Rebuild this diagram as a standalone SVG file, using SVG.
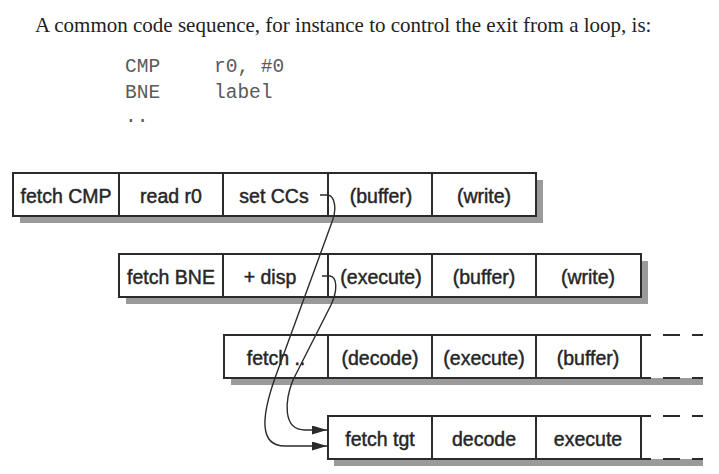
<svg xmlns="http://www.w3.org/2000/svg" width="719" height="474" viewBox="0 0 719 474">
<defs>
<style>
.bg{fill:#ffffff}
.para{font-family:"Liberation Serif","Times New Roman",serif;font-size:21px;fill:#222}
.code{font-family:"Liberation Mono","Courier New",monospace;font-size:19.5px;fill:#5a5a5a}
.shadow{fill:#9a9a9a}
.cell rect{fill:#ffffff;stroke:#2b2b2b;stroke-width:2}
.cell text{font-family:"Liberation Sans",Arial,Helvetica,sans-serif;font-size:19.5px;fill:#262626;stroke:#262626;stroke-width:0.45;text-anchor:middle}
.edge{fill:none;stroke:#2b2b2b;stroke-width:2}
.conn{fill:none;stroke:#2b2b2b;stroke-width:1.4}
</style>
<marker id="arrow" markerUnits="userSpaceOnUse" markerWidth="16" markerHeight="9" refX="15" refY="4.5" orient="auto">
<path d="M0,0 L15,4.5 L0,9 z" fill="#2b2b2b"/>
</marker>
</defs>
<rect class="bg" x="0" y="0" width="719" height="474"/>

<g id="intro">
<text class="para" x="35" y="32">A common code sequence, for instance to control the exit from a loop, is:</text>
<text class="code" x="125" y="72">CMP</text>
<text class="code" x="214" y="72">r0, #0</text>
<text class="code" x="125" y="97.5">BNE</text>
<text class="code" x="214" y="97.5">label</text>
<text class="code" x="125" y="122">..</text>
</g>

<!-- Row 1: CMP -->
<g id="row-cmp">
<rect class="shadow" x="20" y="180" width="523" height="43"/>
<g id="cmp-fetch" class="cell"><rect x="13" y="173" width="106" height="43"/><text x="66" y="202.5">fetch CMP</text></g>
<g id="cmp-read" class="cell"><rect x="119" y="173" width="104" height="43"/><text x="171" y="202.5">read r0</text></g>
<g id="cmp-setccs" class="cell"><rect x="223" y="173" width="105" height="43"/><text x="274" y="202.5">set CCs</text></g>
<g id="cmp-buffer" class="cell"><rect x="328" y="173" width="104" height="43"/><text x="381" y="202.5">(buffer)</text></g>
<g id="cmp-write" class="cell"><rect x="432" y="173" width="104" height="43"/><text x="484" y="202.5">(write)</text></g>
</g>

<!-- Row 2: BNE -->
<g id="row-bne">
<rect class="shadow" x="126" y="261" width="522" height="43"/>
<g id="bne-fetch" class="cell"><rect x="119" y="254" width="104" height="43"/><text x="171" y="283.5">fetch BNE</text></g>
<g id="bne-disp" class="cell"><rect x="223" y="254" width="105" height="43"/><text x="270" y="283.5">+ disp</text></g>
<g id="bne-execute" class="cell"><rect x="328" y="254" width="104" height="43"/><text x="381" y="283.5">(execute)</text></g>
<g id="bne-buffer" class="cell"><rect x="432" y="254" width="104" height="43"/><text x="484" y="283.5">(buffer)</text></g>
<g id="bne-write" class="cell"><rect x="536" y="254" width="105" height="43"/><text x="588" y="283.5">(write)</text></g>
</g>

<!-- Row 3: next sequential fetch -->
<g id="row-next">
<rect class="shadow" x="231" y="378" width="472" height="7"/>
<g id="next-fetch" class="cell"><rect x="224" y="335" width="104" height="43"/><text x="276" y="364.5">fetch ..</text></g>
<g id="next-decode" class="cell"><rect x="328" y="335" width="104" height="43"/><text x="380" y="364.5">(decode)</text></g>
<g id="next-execute" class="cell"><rect x="432" y="335" width="104" height="43"/><text x="484" y="364.5">(execute)</text></g>
<g id="next-buffer" class="cell"><rect x="536" y="335" width="105" height="43"/><text x="588" y="364.5">(buffer)</text></g>
<path class="edge" d="M641,335 H651 M663,335 H680 M692,335 H703 M641,378 H651 M663,378 H680 M692,378 H703"/>
</g>

<!-- Row 4: branch target -->
<g id="row-target">
<rect class="shadow" x="334" y="459" width="369" height="7"/>
<g id="tgt-fetch" class="cell"><rect x="328" y="416" width="104" height="43"/><text x="380" y="445.5">fetch tgt</text></g>
<g id="tgt-decode" class="cell"><rect x="432" y="416" width="104" height="43"/><text x="484" y="445.5">decode</text></g>
<g id="tgt-execute" class="cell"><rect x="536" y="416" width="105" height="43"/><text x="588" y="445.5">execute</text></g>
<path class="edge" d="M641,416 H651 M663,416 H680 M692,416 H703 M641,459 H651 M663,459 H680 M692,459 H703"/>
</g>

<g id="connectors">
<path class="conn" marker-end="url(#arrow)" d="M320,195 L328,195 C335,196 337,210 332,222 L275,378 C262,415 258,446 285,446 L327,446"/>
<path class="conn" marker-end="url(#arrow)" d="M322,276 L330,276 C337,277 338,290 331,305 L293,380 C285,400 282,430 305,430 L327,430"/>
</g>
</svg>
